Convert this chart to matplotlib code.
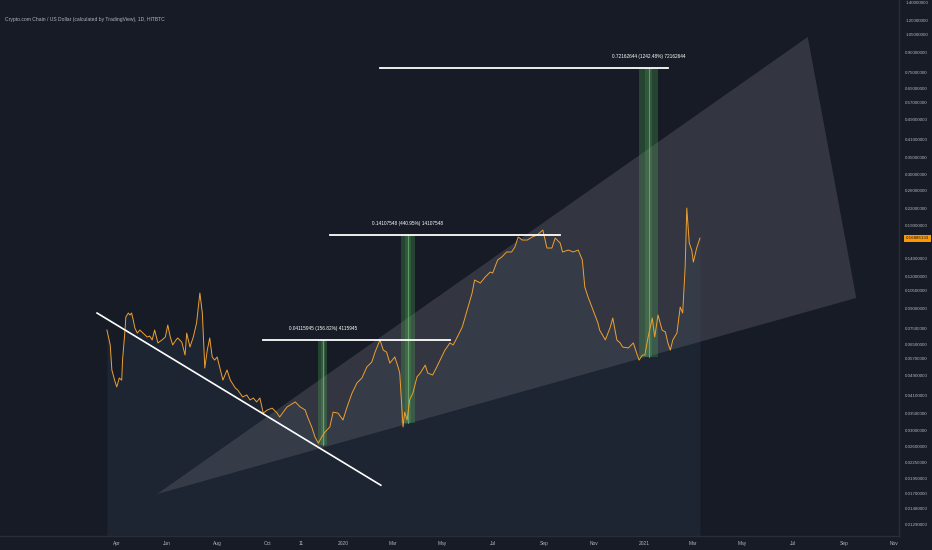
import matplotlib
matplotlib.use('Agg')
import matplotlib.pyplot as plt
import matplotlib.dates as mdates
import matplotlib.transforms as mtransforms
from matplotlib.patches import Polygon, Rectangle
import pandas as pd

# ---------------- data ----------------
dates = [
    '2019-03-20', '2019-03-24', '2019-03-26', '2019-03-30', '2019-04-01', '2019-04-04', '2019-04-07', '2019-04-08',
    '2019-04-11', '2019-04-12', '2019-04-15', '2019-04-17', '2019-04-19', '2019-04-21', '2019-04-23', '2019-04-26',
    '2019-04-29', '2019-05-03', '2019-05-08', '2019-05-11', '2019-05-14', '2019-05-17', '2019-05-21', '2019-05-26',
    '2019-05-30', '2019-06-02', '2019-06-05', '2019-06-08', '2019-06-12', '2019-06-14', '2019-06-19', '2019-06-23',
    '2019-06-25', '2019-06-29', '2019-07-03', '2019-07-07', '2019-07-11', '2019-07-14', '2019-07-17', '2019-07-20',
    '2019-07-23', '2019-07-26', '2019-07-29', '2019-08-01', '2019-08-04', '2019-08-08', '2019-08-13', '2019-08-17',
    '2019-08-23', '2019-08-26', '2019-09-01', '2019-09-06', '2019-09-10', '2019-09-14', '2019-09-18', '2019-09-22',
    '2019-09-26', '2019-10-01', '2019-10-07', '2019-10-13', '2019-10-16', '2019-10-25', '2019-11-04', '2019-11-10',
    '2019-11-16', '2019-11-19', '2019-11-24', '2019-11-28', '2019-12-02', '2019-12-06', '2019-12-10', '2019-12-16',
    '2019-12-20', '2019-12-26', '2020-01-01', '2020-01-06', '2020-01-12', '2020-01-18', '2020-01-24', '2020-01-30',
    '2020-02-05', '2020-02-09', '2020-02-15', '2020-02-19', '2020-02-23', '2020-02-27', '2020-03-04', '2020-03-08',
    '2020-03-10', '2020-03-14', '2020-03-16', '2020-03-19', '2020-03-22', '2020-03-26', '2020-03-31', '2020-04-04',
    '2020-04-10', '2020-04-13', '2020-04-19', '2020-04-24', '2020-04-30', '2020-05-04', '2020-05-10', '2020-05-14',
    '2020-05-19', '2020-05-25', '2020-05-31', '2020-06-06', '2020-06-09', '2020-06-16', '2020-06-22', '2020-06-28',
    '2020-07-01', '2020-07-07', '2020-07-12', '2020-07-18', '2020-07-24', '2020-07-28', '2020-08-01', '2020-08-06',
    '2020-08-12', '2020-08-18', '2020-08-24', '2020-08-31', '2020-09-05', '2020-09-11', '2020-09-15', '2020-09-21',
    '2020-09-24', '2020-10-01', '2020-10-07', '2020-10-13', '2020-10-18', '2020-10-21', '2020-10-25', '2020-10-31',
    '2020-11-06', '2020-11-08', '2020-11-15', '2020-11-21', '2020-11-24', '2020-11-29', '2020-12-03', '2020-12-06',
    '2020-12-13', '2020-12-19', '2020-12-23', '2020-12-26', '2020-12-30', '2021-01-02', '2021-01-06', '2021-01-11',
    '2021-01-14', '2021-01-18', '2021-01-23', '2021-01-27', '2021-01-30', '2021-02-02', '2021-02-05', '2021-02-10',
    '2021-02-14', '2021-02-17', '2021-02-20', '2021-02-22', '2021-02-25', '2021-02-28', '2021-03-02', '2021-03-06',
    '2021-03-10',
]
prices = [
    0.0739, 0.0646, 0.0516, 0.0463, 0.0443, 0.0480, 0.0471, 0.0564,
    0.0739, 0.0831, 0.0861, 0.0846, 0.0861, 0.0809, 0.0752, 0.0719,
    0.0739, 0.0719, 0.0694, 0.0700, 0.0676, 0.0739, 0.0658, 0.0676,
    0.0694, 0.0773, 0.0694, 0.0646, 0.0676, 0.0688, 0.0663, 0.0590,
    0.0719, 0.0634, 0.0694, 0.0787, 0.1031, 0.0861, 0.0525, 0.0617,
    0.0688, 0.0580, 0.0564, 0.0580, 0.0530, 0.0471, 0.0516, 0.0471,
    0.0439, 0.0431, 0.0405, 0.0412, 0.0394, 0.0401, 0.0387, 0.0401,
    0.0350, 0.0360, 0.0366, 0.0350, 0.0338, 0.0370, 0.0387, 0.0370,
    0.0360, 0.0338, 0.0309, 0.0282, 0.0267, 0.0282, 0.0295, 0.0309,
    0.0353, 0.0350, 0.0329, 0.0370, 0.0419, 0.0459, 0.0480, 0.0530,
    0.0554, 0.0606, 0.0676, 0.0617, 0.0606, 0.0549, 0.0580, 0.0530,
    0.0502, 0.0309, 0.0353, 0.0329, 0.0394, 0.0419, 0.0485, 0.0502,
    0.0539, 0.0502, 0.0493, 0.0530, 0.0580, 0.0617, 0.0658, 0.0646,
    0.0694, 0.0759, 0.0885, 0.1031, 0.1159, 0.1128, 0.1191, 0.1245,
    0.1234, 0.1387, 0.1425, 0.1491, 0.1491, 0.1559, 0.1705, 0.1660,
    0.1660, 0.1705, 0.1737, 0.1816, 0.1545, 0.1545, 0.1690, 0.1616,
    0.1491, 0.1517, 0.1491, 0.1517, 0.1387, 0.1088, 0.0994, 0.0885,
    0.0787, 0.0739, 0.0676, 0.0759, 0.0823, 0.0676, 0.0658, 0.0634,
    0.0629, 0.0658, 0.0601, 0.0564, 0.0590, 0.0590, 0.0694, 0.0823,
    0.0694, 0.0846, 0.0739, 0.0726, 0.0658, 0.0617, 0.0676, 0.0719,
    0.0909, 0.0861, 0.1302, 0.2214, 0.1616, 0.1517, 0.1362, 0.1545,
    0.16886133,
]
last_price_label = '0.16886133'

title_text = 'Crypto.com Chain / US Dollar (calculated by TradingView), 1D, HITBTC'

ytick_values = [1.4, 1.2, 1.05, 0.9, 0.75, 0.65, 0.57, 0.49, 0.41, 0.35, 0.30, 0.26, 0.22, 0.19,
                0.14, 0.12, 0.105, 0.09, 0.075, 0.065, 0.057, 0.049, 0.041, 0.035, 0.030, 0.026,
                0.0225, 0.0195, 0.017, 0.0148, 0.0129]
xtick_dates = ['2019-04-01', '2019-06-01', '2019-08-01', '2019-10-01', '2019-11-11', '2020-01-01',
               '2020-03-01', '2020-05-01', '2020-07-01', '2020-09-01', '2020-11-01', '2021-01-01',
               '2021-03-01', '2021-05-01', '2021-07-01', '2021-09-01', '2021-11-01']
xtick_labels = ['Apr', 'Jun', 'Aug', 'Oct', '11', '2020', 'Mar', 'May', 'Jul', 'Sep', 'Nov', '2021',
                'Mar', 'May', 'Jul', 'Sep', 'Nov']

# drawings
trend_dates = ['2019-03-08', '2020-02-16']
trend_prices = [0.0861, 0.0183]
wedge_dates = ['2019-05-20', '2021-07-19', '2021-09-16']
wedge_prices = [0.0169, 1.031, 0.0986]

range_labels = ['0.04115945 (156.82%) 4115945', '0.14107548 (440.95%) 14107548',
                '0.72162644 (1242.48%) 72162644']
range_start = ['2019-12-02', '2020-03-12', '2020-12-26']
range_end = ['2019-12-13', '2020-03-28', '2021-01-18']
range_low = [0.02625, 0.03199, 0.05808]
range_high = [0.06741, 0.17307, 0.7797]
hline_start = ['2019-09-26', '2019-12-16', '2020-02-15']
hline_end = ['2020-05-10', '2020-09-21', '2021-01-30']

x_range = ['2018-11-10', '2021-11-07']
y_range = [0.01159, 1.438]

# ---------------- style ----------------
BG = '#171b26'
TXT = '#b2b5be'
FONT = ['Liberation Sans', 'DejaVu Sans']
plt.rcParams['font.family'] = FONT

fig = plt.figure(figsize=(9.32, 5.5), dpi=100, facecolor=BG)
ax = fig.add_axes([0, 14 / 550, 899 / 932, 536 / 550], facecolor=BG)

d = mdates.date2num(pd.to_datetime(dates))
ax.set_yscale('log')
ax.set_xlim(mdates.date2num(pd.to_datetime(x_range)))
ax.set_ylim(y_range)

# wedge
wx = mdates.date2num(pd.to_datetime(wedge_dates))
ax.add_patch(Polygon(list(zip(wx, wedge_prices)), closed=True, facecolor='white', alpha=0.12,
                     edgecolor='none', zorder=1))

# area + line
ax.fill_between(d, prices, y_range[0], color='#4a6a8a', alpha=0.12, lw=0, zorder=2)
ax.plot(d, prices, color='#f0a030', lw=0.7, zorder=4)

# trend line
tx = mdates.date2num(pd.to_datetime(trend_dates))
ax.plot(tx, trend_prices, color='white', lw=1.2, zorder=5)

# price range tools
for lab, s, e, lo, hi, hs, he in zip(range_labels, range_start, range_end, range_low, range_high,
                                      hline_start, hline_end):
    s_, e_ = mdates.date2num(pd.to_datetime([s, e]))
    ax.add_patch(Rectangle((s_, lo), e_ - s_, hi - lo, facecolor='#4caf50', alpha=0.28,
                           edgecolor='none', zorder=3))
    ax.add_patch(Rectangle((s_ + (e_ - s_) * 0.3, lo), (e_ - s_) * 0.4, hi - lo, facecolor='#66bb6a',
                           alpha=0.18, edgecolor='none', zorder=3))
    mid = (s_ + e_) / 2
    ax.plot([mid, mid], [lo, hi], color='#81c784', lw=0.8, alpha=0.6, zorder=3)
    hs_, he_ = mdates.date2num(pd.to_datetime([hs, he]))
    ax.plot([hs_, he_], [hi, hi], color='white', lw=1.3, zorder=5)
    ax.annotate(lab, xy=(mid, hi), xytext=(0, 6.5), textcoords='offset points', ha='center',
                va='bottom', fontsize=3.4, color='white', zorder=6)

# axes styling
for sp in ['top', 'left', 'bottom', 'right']:
    ax.spines[sp].set_visible(False)
ax.plot([1, 1], [0, 1], transform=ax.transAxes, color='#2a2e39', lw=1, clip_on=False)
ax.plot([0, 1], [0, 0], transform=ax.transAxes, color='#2a2e39', lw=1, clip_on=False)

ax.yaxis.tick_right()
ax.set_yticks(ytick_values)
ax.set_yticklabels(['%.8f' % v for v in ytick_values])
ax.yaxis.set_minor_locator(matplotlib.ticker.NullLocator())
ax.tick_params(axis='y', length=0, pad=4.5, labelsize=3.2, labelcolor=TXT)
ax.set_xticks(mdates.date2num(pd.to_datetime(xtick_dates)))
ax.set_xticklabels(xtick_labels)
ax.tick_params(axis='x', length=0, pad=3.5, labelsize=3.5, labelcolor=TXT)

# last price label
trans = mtransforms.blended_transform_factory(ax.transAxes, ax.transData)
ax.text(1.0 + 7 / 899, prices[-1], last_price_label, transform=trans, ha='left', va='center',
        fontsize=3.2, color='#131722', clip_on=False, zorder=10,
        bbox=dict(boxstyle='square,pad=0.35', facecolor='#ff9800', edgecolor='none'))

fig.text(5 / 932, 1 - 19 / 550, title_text, ha='left', va='center', fontsize=3.6, color=TXT)

fig.savefig('out.png', dpi=100, facecolor=BG)
